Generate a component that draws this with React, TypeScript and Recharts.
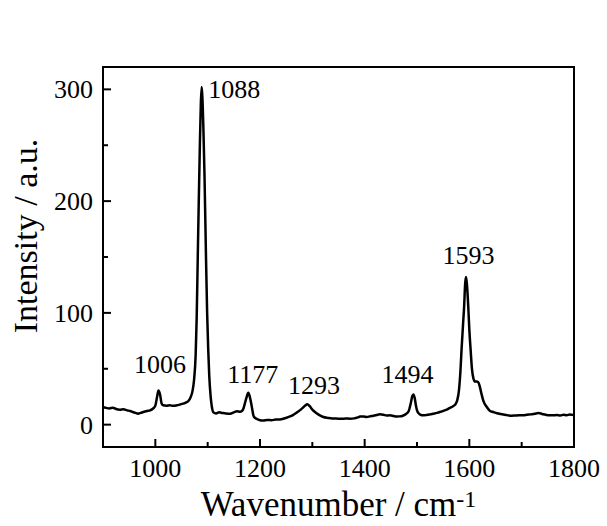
import React from 'react';
import { LineChart, Line, XAxis, YAxis, ReferenceArea, ReferenceDot } from 'recharts';

// Raman spectrum
const wavenumbers = [
  900, 906, 912, 919, 925, 932, 939, 946, 952, 957, 962, 967, 972, 977, 984, 990, 996,
  1000, 1003, 1006, 1009, 1012, 1015, 1021, 1028, 1034, 1041, 1047, 1053, 1058, 1063,
  1067, 1071, 1074, 1077, 1079, 1081, 1083, 1085, 1087, 1088.6, 1090, 1092, 1094, 1096.8,
  1099, 1101, 1103, 1105.7, 1108, 1111, 1116, 1122, 1128, 1135, 1143, 1150, 1156, 1162,
  1167, 1171, 1174, 1177.7, 1181, 1184, 1188, 1194, 1200, 1206, 1214, 1222, 1230, 1238,
  1246, 1254, 1263, 1271, 1280, 1286, 1290.5, 1295, 1300, 1305, 1312, 1321, 1330, 1338,
  1346, 1355, 1364, 1372, 1380, 1387, 1391, 1398, 1404, 1410, 1417, 1423, 1429, 1436,
  1442, 1448, 1455, 1461, 1467, 1473, 1479, 1484, 1488, 1491, 1493, 1495.5, 1498, 1501,
  1506, 1512, 1518, 1525, 1531, 1538, 1545, 1551, 1557, 1563, 1569, 1574, 1577, 1580,
  1583, 1585, 1588, 1590, 1592, 1593.7, 1595.5, 1598, 1600, 1602.6, 1605, 1608, 1611,
  1614, 1617, 1620, 1623, 1627, 1633, 1639, 1646, 1653, 1660, 1667, 1674, 1681, 1688,
  1695, 1703, 1710, 1718, 1725, 1732, 1739, 1746, 1753, 1760, 1767, 1774, 1780, 1786,
  1792, 1800,
];

const intensities = [
  15.5, 15, 14.5, 15.2, 14, 13.4, 13.8, 12.8, 12.2, 11.3, 10.5, 9.8, 10.5, 11.3, 12.2, 12.8, 14.5,
  17, 24, 30.5, 27, 19, 17.3, 17, 17.3, 16.8, 17.3, 18, 18.8, 19.8, 21,
  24, 30, 40, 62, 95, 148, 200, 248, 288, 302, 292, 262, 222, 150,
  100, 68, 44, 25, 16, 11, 10, 11, 10.5, 10, 9.8, 11, 12, 11.5,
  13, 18.8, 24, 28.5, 24, 17, 7.5, 5, 4, 3.8, 4.2, 4, 4.5, 4.6,
  5.5, 6.8, 8.5, 11, 14.3, 17, 18.3, 16.5, 13.5, 11.3, 9, 6.8, 6, 5.5,
  5.4, 5.2, 5.5, 5.3, 5.6, 6.5, 7.2, 7.4, 6.8, 7.4, 8, 8.6, 9.2, 8.8,
  8.2, 8.3, 7.8, 7.3, 7.4, 8, 9.5, 12, 19, 25.5, 27, 24, 17, 11.5,
  9, 8.3, 8.6, 9.2, 9.8, 10.5, 11.5, 12.5, 13.5, 15, 16.5, 18.5, 22, 30,
  48, 66, 90, 105, 126, 132, 125, 105, 85, 66, 50, 41, 38.5,
  38.5, 38, 34, 28, 21, 16, 12.5, 11.3, 10.2, 9.5, 8.8, 8.3, 8, 8.2,
  8.4, 8.3, 8.8, 9.2, 9.8, 10.4, 9.6, 8.8, 8.3, 8.3, 8.6, 8.2, 8.8, 8.5,
  9, 8.5,
];

// peak annotations (label text centred at these data coordinates)
const peakLabels = ['1006', '1088', '1177', '1293', '1494', '1593'];
const peakLabelX = [1009, 1151, 1186, 1303, 1482, 1598.5];
const peakLabelY = [54.8, 300.8, 45.9, 36, 45.9, 152.3];

const xTicks = [1000, 1100, 1200, 1300, 1400, 1500, 1600, 1700, 1800];
const yTicks = [0, 50, 100, 150, 200, 250, 300];

const data = wavenumbers.map((w, i) => ({ w, v: intensities[i] }));

const FONT = "'Times New Roman', 'Liberation Serif', serif";

const XTick = (props: any) => {
  const { x, y, payload } = props;
  const major = payload.value % 200 === 0;
  return (
    <g>
      <line x1={x} y1={y} x2={x} y2={y - (major ? 8 : 5)} stroke="#000" strokeWidth={2} />
      {major && (
        <text x={x} y={y + 30} textAnchor="middle" fontFamily={FONT} fontSize={26} fill="#000">
          {payload.value}
        </text>
      )}
    </g>
  );
};

const YTick = (props: any) => {
  const { x, y, payload } = props;
  const major = payload.value % 100 === 0;
  return (
    <g>
      <line x1={x} y1={y} x2={x + (major ? 8 : 5)} y2={y} stroke="#000" strokeWidth={2} />
      {major && (
        <text x={x - 10} y={y + 9} textAnchor="end" fontFamily={FONT} fontSize={26} fill="#000">
          {payload.value}
        </text>
      )}
    </g>
  );
};

export default function App() {
  return (
    <div style={{ position: 'absolute', left: 0, top: 0, background: '#fff' }}>
      <LineChart width={607} height={526} data={data} margin={{ top: 67, right: 33, bottom: 0, left: 0 }}>
        <XAxis
          dataKey="w"
          type="number"
          domain={[900, 1800]}
          ticks={xTicks}
          interval={0}
          tickSize={0}
          tickMargin={0}
          tickLine={false}
          axisLine={false}
          tick={<XTick />}
          height={79}
          label={{
            content: (p: any) => {
              const vb = p.viewBox;
              return (
                <text x={vb.x + vb.width / 2} y={516} textAnchor="middle" fontFamily={FONT} fontSize={35} fill="#000">
                  Wavenumber / cm
                  <tspan fontSize={24} dy={-9}>-1</tspan>
                </text>
              );
            },
          }}
        />
        <YAxis
          type="number"
          domain={[-20, 320]}
          ticks={yTicks}
          interval={0}
          tickSize={0}
          tickMargin={0}
          tickLine={false}
          axisLine={false}
          tick={<YTick />}
          width={103}
          label={{
            content: () => (
              <text
                x={37}
                y={236}
                transform="rotate(-90 37 236)"
                textAnchor="middle"
                fontFamily={FONT}
                fontSize={34}
                fill="#000"
              >
                Intensity / a.u.
              </text>
            ),
          }}
        />
        <Line
          type="monotone"
          dataKey="v"
          stroke="#000"
          strokeWidth={2.5}
          dot={false}
          isAnimationActive={false}
        />
        <ReferenceArea x1={900} x2={1800} y1={-20} y2={320} fill="none" stroke="#000" strokeWidth={2} />
        {peakLabels.map((t, i) => (
          <ReferenceDot
            key={t}
            x={peakLabelX[i]}
            y={peakLabelY[i]}
            r={0}
            fill="none"
            stroke="none"
            label={{ value: t, position: 'center', fontFamily: FONT, fontSize: 26, fill: '#000' }}
          />
        ))}
      </LineChart>
    </div>
  );
}
